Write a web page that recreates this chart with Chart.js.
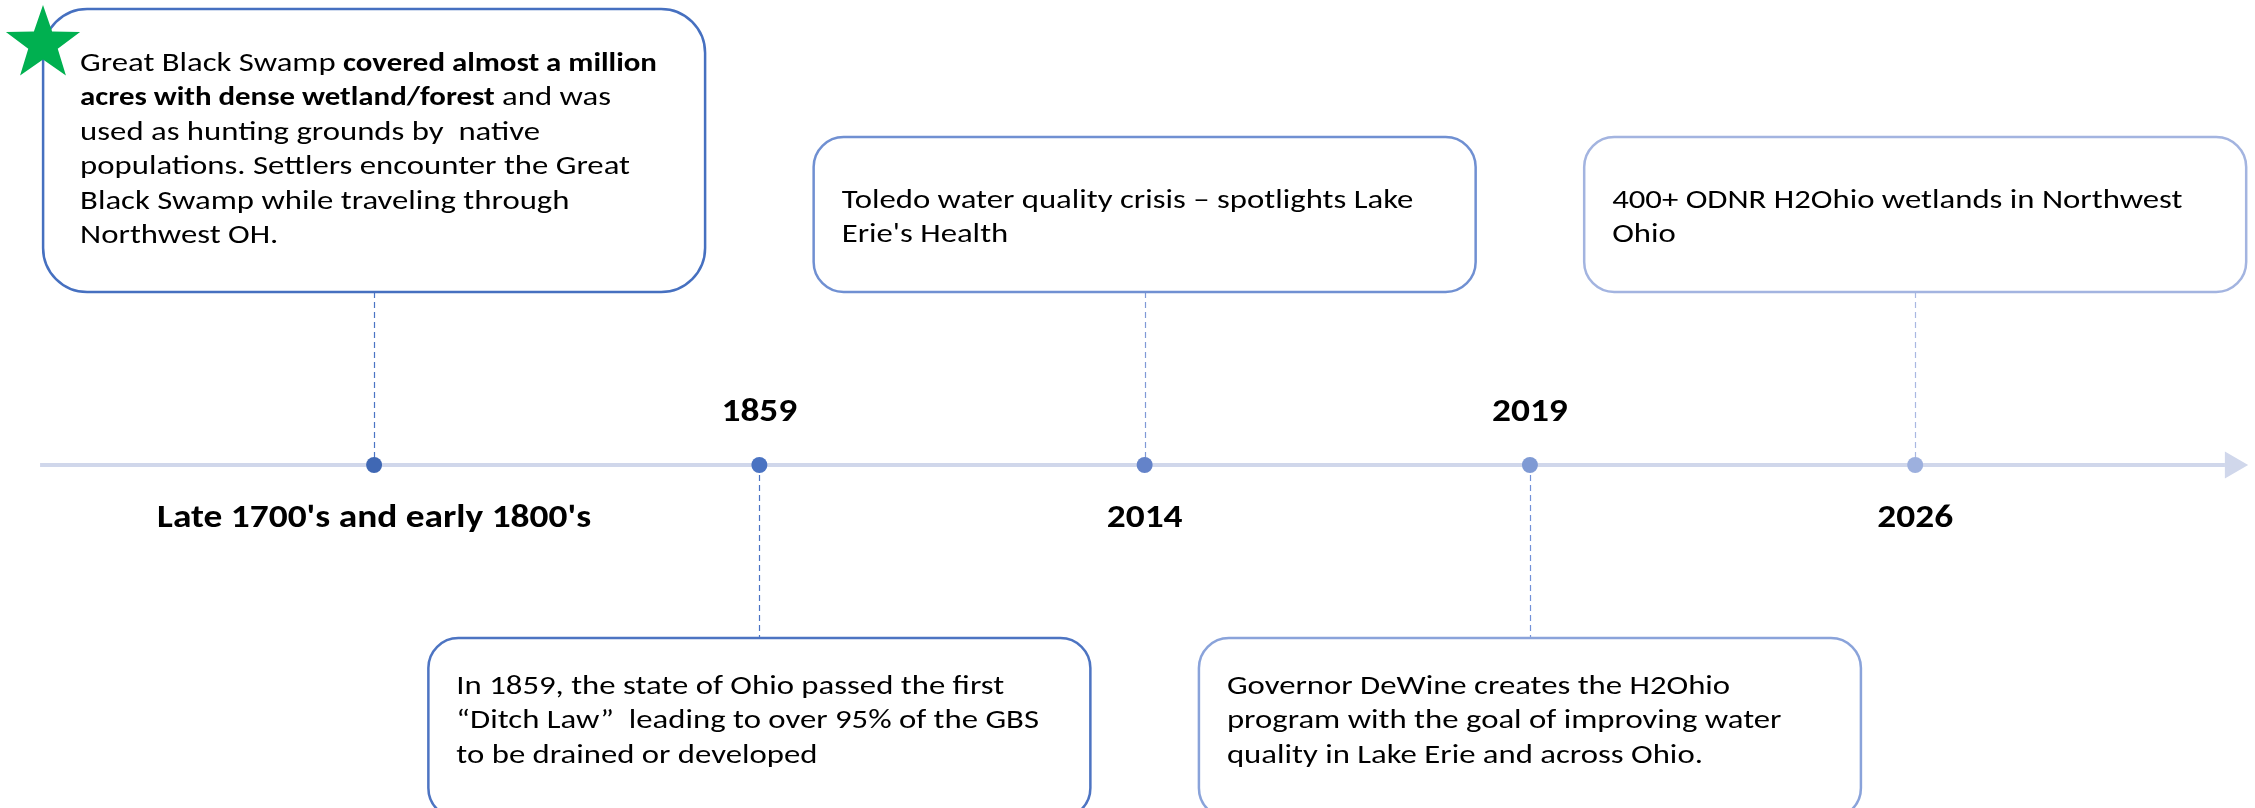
<!DOCTYPE html>
<html>
<head>
<meta charset="utf-8">
<title>Great Black Swamp timeline</title>
<script src="https://cdn.jsdelivr.net/npm/chart.js@4.4.1/dist/chart.umd.min.js"></script>
<style>
  html, body { margin: 0; padding: 0; background: #ffffff; }
  #wrap { width: 2255px; height: 808px; }
</style>
</head>
<body>
<div id="wrap"><canvas id="timeline" width="2255" height="808"></canvas></div>
<script>
// timeline data
const eventPos = [0, 1, 2, 3, 4];
const eventLabels = ["Late 1700's and early 1800's", '1859', '2014', '2019', '2026'];
const labelSide = ['below', 'above', 'below', 'above', 'below'];
const axisRange = [-0.867, 4.804];
const arrowTip = [4.824];

// note text, one array of lines per event, each line = [text, bold] segments
const notes = [
  [
    [['Great Black Swamp ', false], ['covered almost a million', true]],
    [['acres with dense wetland/forest', true], [' and was', false]],
    [['used as hunting grounds by  native', false]],
    [['populations. Settlers encounter the Great', false]],
    [['Black Swamp while traveling through', false]],
    [['Northwest OH.', false]]
  ],
  [
    [['In 1859, the state of Ohio passed the first', false]],
    [['\u201CDitch Law\u201D  leading to over 95% of the GBS', false]],
    [['to be drained or developed', false]]
  ],
  [
    [['Toledo water quality crisis \u2013 spotlights Lake', false]],
    [["Erie's Health", false]]
  ],
  [
    [['Governor DeWine creates the H2Ohio', false]],
    [['program with the goal of improving water', false]],
    [['quality in Lake Erie and across Ohio.', false]]
  ],
  [
    [['400+ ODNR H2Ohio wetlands in Northwest', false]],
    [['Ohio', false]]
  ]
];

const markerColors = ['#4068b4', '#4a73c2', '#6483c9', '#7f9ad4', '#9db0de'];
const boxColors = ['#4670c0', '#4d74c2', '#7090d2', '#8aa3da', '#a3b4e0'];
const dashColors = ['#4a74c4', '#4a74c4', '#7f99d6', '#7291d8', '#a9b8e2'];

const FONT = "Carlito, Lato, 'Liberation Sans', sans-serif";
const BODY = 26;
const LABEL = 32;

function segWidth(ctx, s, size) {
  ctx.font = (s[1] ? 'bold ' : '') + size + 'px ' + FONT;
  return ctx.measureText(s[0]).width;
}

function drawSegs(ctx, segs, x, y, size, sx, sxb) {
  let cx = x;
  segs.forEach(s => {
    const k = s[1] ? sxb : sx;
    ctx.font = (s[1] ? 'bold ' : '') + size + 'px ' + FONT;
    ctx.save();
    ctx.translate(cx, y);
    ctx.scale(k, 1);
    ctx.fillText(s[0], 0, 0);
    ctx.restore();
    cx += ctx.measureText(s[0]).width * k;
  });
}

function roundBox(ctx, x, y, w, h, r) {
  ctx.beginPath();
  ctx.moveTo(x + r, y);
  ctx.arcTo(x + w, y, x + w, y + h, r);
  ctx.arcTo(x + w, y + h, x, y + h, r);
  ctx.arcTo(x, y + h, x, y, r);
  ctx.arcTo(x, y, x + w, y, r);
  ctx.closePath();
}

function star(ctx, cx, cy, R, r) {
  ctx.beginPath();
  for (let i = 0; i < 10; i++) {
    const rad = -Math.PI / 2 + i * Math.PI / 5;
    const rr = i % 2 === 0 ? R : r;
    const px = cx + Math.cos(rad) * rr, py = cy + Math.sin(rad) * rr;
    if (i === 0) ctx.moveTo(px, py); else ctx.lineTo(px, py);
  }
  ctx.closePath();
  ctx.fillStyle = '#00b050';
  ctx.fill();
}

const timelinePlugin = {
  id: 'timelineBoxes',
  beforeDatasetsDraw(chart) {
    const ctx = chart.ctx;
    const xs = chart.scales.x, ys = chart.scales.y;
    const axisY = ys.getPixelForValue(0);
    ctx.save();
    ctx.lineWidth = 1.2;
    ctx.setLineDash([6, 4]);
    eventPos.forEach((p, i) => {
      const x = Math.round(xs.getPixelForValue(p)) + 0.5;
      ctx.strokeStyle = dashColors[i];
      ctx.beginPath();
      if (labelSide[i] === 'below') {
        ctx.moveTo(x, axisY - 173);
        ctx.lineTo(x, axisY);
      } else {
        ctx.moveTo(x, axisY);
        ctx.lineTo(x, axisY + 173);
      }
      ctx.stroke();
    });
    ctx.restore();
  },
  afterDatasetsDraw(chart) {
    const ctx = chart.ctx;
    const xs = chart.scales.x, ys = chart.scales.y;
    const axisY = ys.getPixelForValue(0);
    ctx.save();

    // horizontal scale so the fallback font takes the same width as the original
    const refLines = [notes[2][0], notes[1][0], notes[3][1]];
    const refTotal = 557 + 556 + 561;
    let measured = 0;
    refLines.forEach(l => l.forEach(s => { measured += segWidth(ctx, s, BODY); }));
    const sxBody = refTotal / measured;
    const l2 = notes[0][1];
    const sxBold = (531 - segWidth(ctx, l2[1], BODY) * sxBody) / segWidth(ctx, l2[0], BODY);
    const sxLabel = 434 / segWidth(ctx, [eventLabels[0], true], LABEL);

    ctx.textBaseline = 'middle';

    eventPos.forEach((p, i) => {
      const cx = xs.getPixelForValue(p);
      const boxW = 662;
      const bx = cx - boxW / 2;
      let by, bh, r, firstY;
      if (labelSide[i] === 'below') {
        // box above axis
        const bottom = axisY - 173;
        by = i === 0 ? 9 : axisY - 328;
        bh = bottom - by;
        r = i === 0 ? 44 : 30;
        firstY = by + (i === 0 ? 55 : 64);
      } else {
        by = axisY + 173;
        bh = 180;
        r = 30;
        firstY = by + 49;
      }
      roundBox(ctx, bx, by, boxW, bh, r);
      ctx.fillStyle = '#ffffff';
      ctx.fill();
      ctx.lineWidth = 2.5;
      ctx.strokeStyle = boxColors[i];
      ctx.stroke();

      ctx.fillStyle = '#000000';
      ctx.textAlign = 'left';
      const pad = i === 0 ? 37 : 28;
      notes[i].forEach((segs, k) => {
        drawSegs(ctx, segs, bx + pad, firstY + k * 34.5, BODY, sxBody, sxBold);
      });

      // year label
      const ly = labelSide[i] === 'below' ? axisY + 54 : axisY - 52;
      const lw = segWidth(ctx, [eventLabels[i], true], LABEL) * sxLabel;
      drawSegs(ctx, [[eventLabels[i], true]], cx - lw / 2, ly, LABEL, sxLabel, sxLabel);
    });

    star(ctx, 43, 44, 39, 15.5);
    ctx.restore();
  }
};

new Chart(document.getElementById('timeline'), {
  type: 'scatter',
  data: {
    datasets: [
      {
        label: 'events',
        data: eventPos.map(p => ({ x: p, y: 0 })),
        pointRadius: 8,
        pointBorderWidth: 0,
        pointBackgroundColor: markerColors,
        order: 0
      },
      {
        label: 'arrow',
        data: arrowTip.map(p => ({ x: p, y: 0 })),
        pointStyle: 'triangle',
        rotation: 90,
        pointRadius: 15.5,
        pointBorderWidth: 0,
        pointBackgroundColor: '#d0d7eb',
        order: 1
      },
      {
        label: 'axis',
        data: axisRange.map(p => ({ x: p, y: 0 })),
        showLine: true,
        borderColor: '#d0d7eb',
        borderWidth: 4,
        pointRadius: 0,
        order: 2
      }
    ]
  },
  options: {
    responsive: false,
    devicePixelRatio: 1,
    animation: false,
    layout: { padding: 0, autoPadding: false },
    plugins: {
      legend: { display: false },
      tooltip: { enabled: false }
    },
    scales: {
      x: { type: 'linear', min: -0.971, max: 4.882, display: false },
      y: { type: 'linear', min: -0.7376, max: 1, display: false }
    }
  },
  plugins: [timelinePlugin]
});
</script>
</body>
</html>
